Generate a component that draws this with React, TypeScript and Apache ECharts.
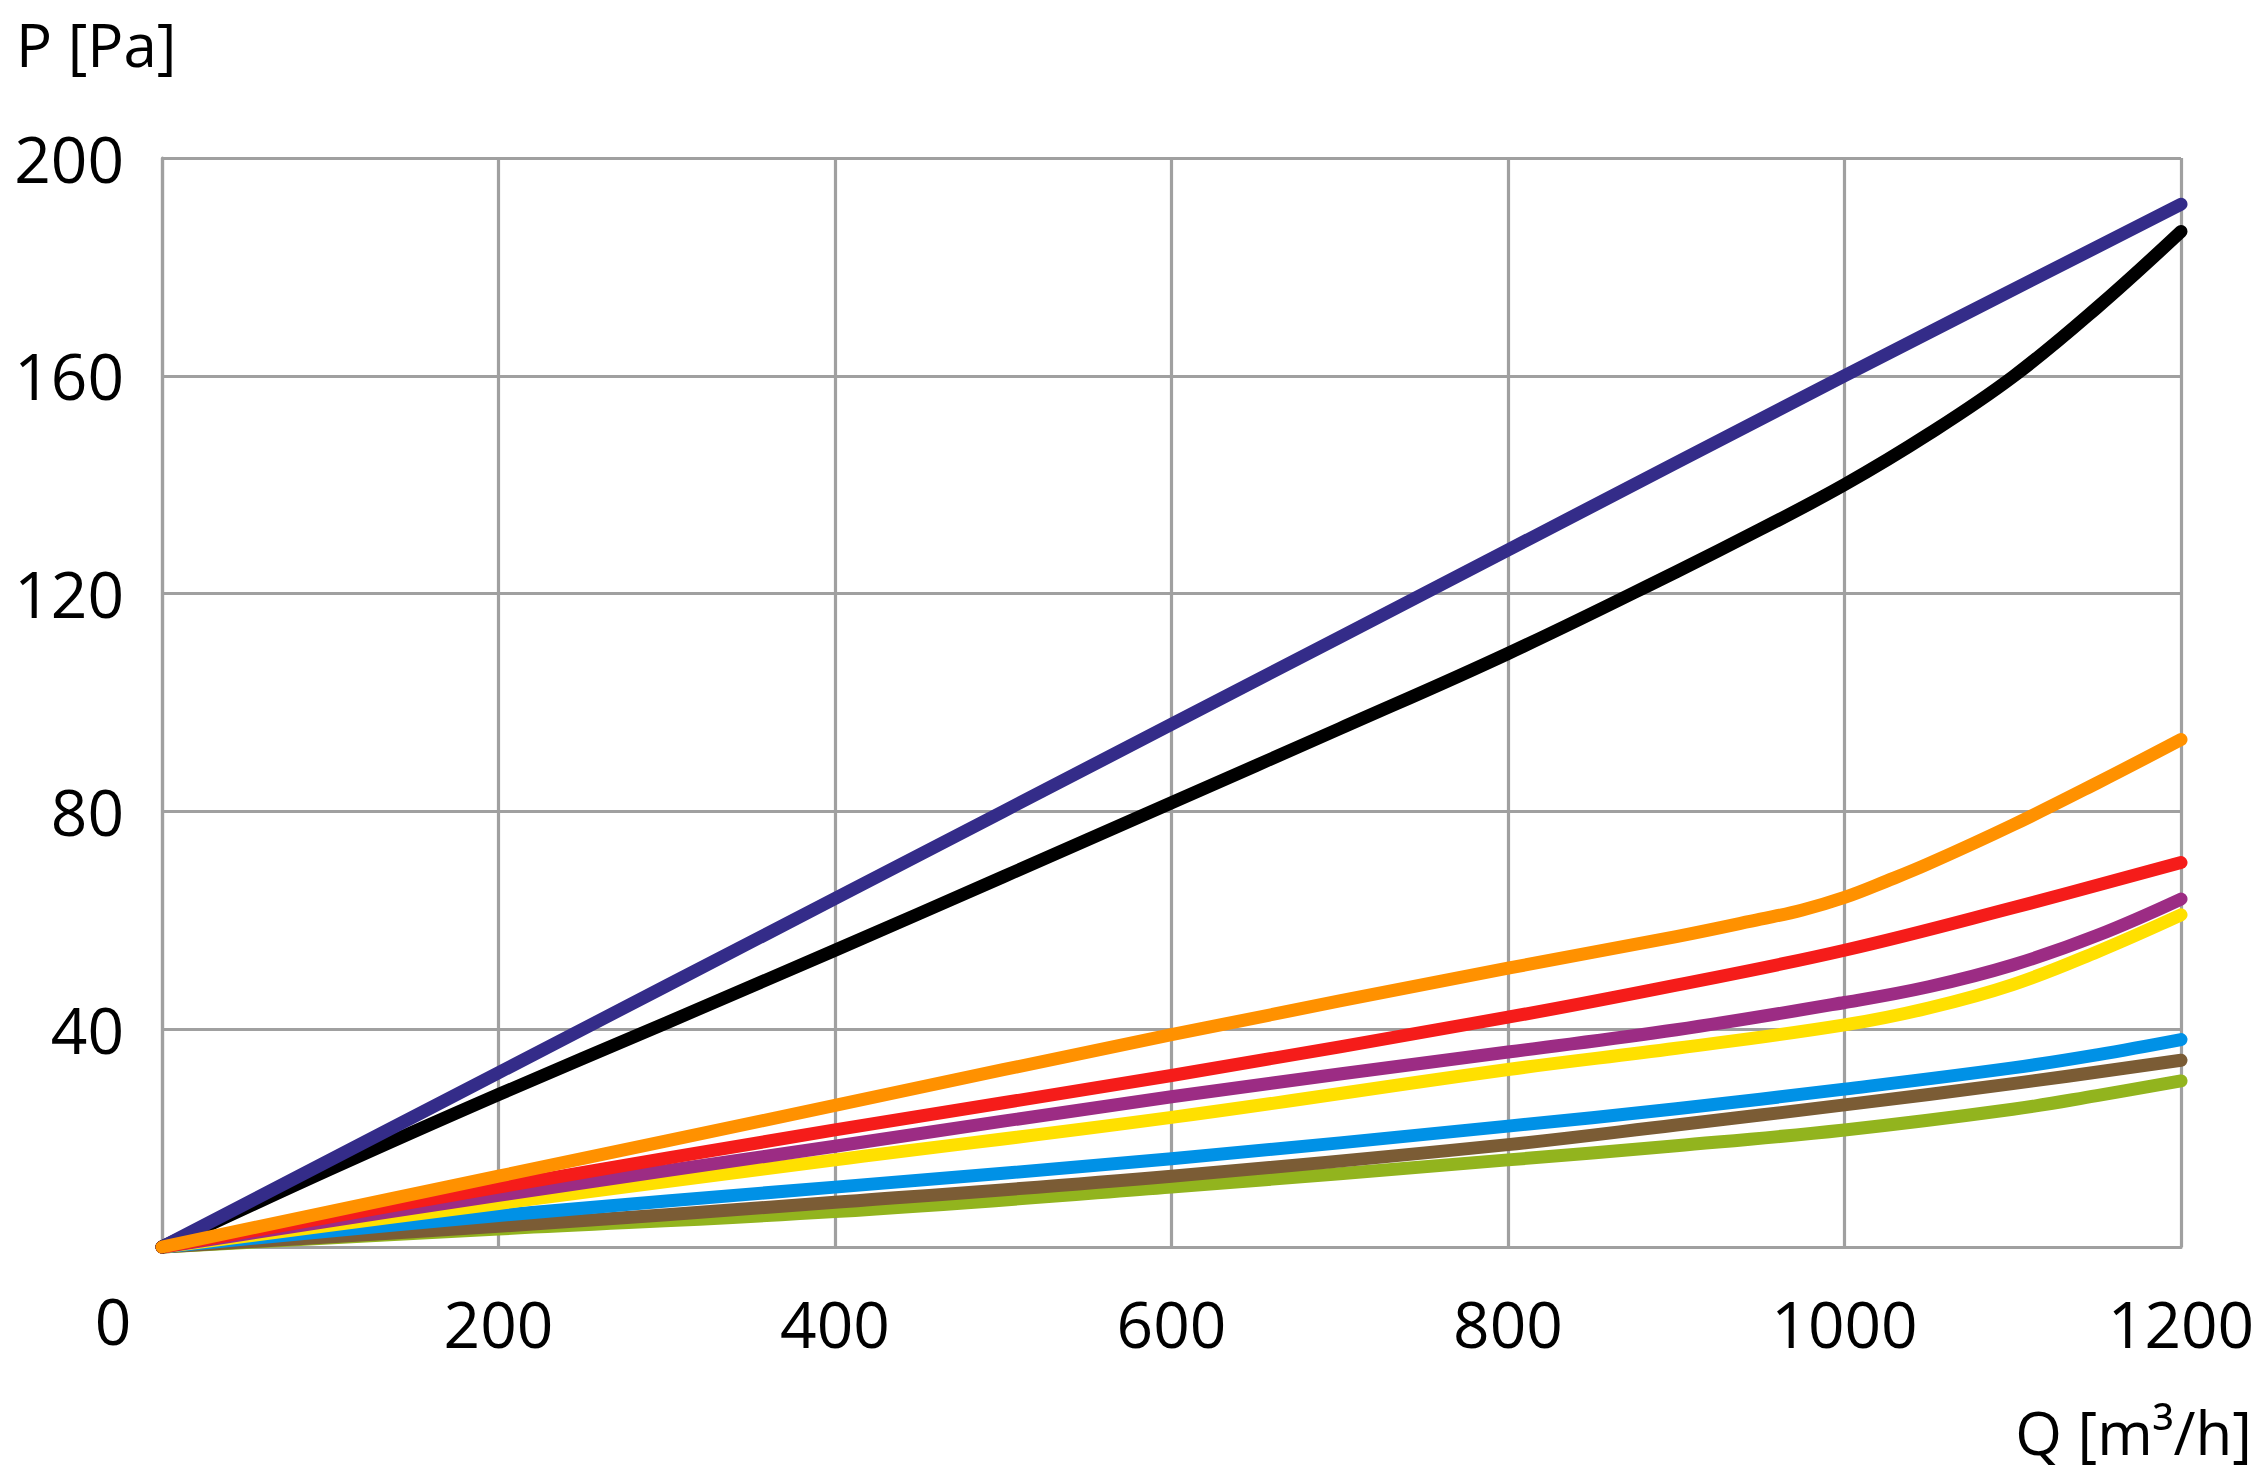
import React, { useEffect, useRef } from "react";
import * as echarts from "echarts";

const xTicks = [0, 200, 400, 600, 800, 1000, 1200];
const yTicks = [0, 40, 80, 120, 160, 200];

const darkBlueQ = [0, 200, 400, 600, 800, 1000, 1200];
const darkBlueP = [0, 32, 64, 96, 128, 160, 191.5];

const blackQ = [0, 100, 200, 300, 400, 500, 600, 700, 800, 900, 950, 1000, 1050, 1100, 1150, 1200];
const blackP = [0, 14.3, 28, 41.2, 54.5, 68, 81.6, 95.2, 109, 124, 131.8, 140, 149.3, 159.8, 172.5, 186.5];

const orangeQ = [0, 200, 400, 600, 800, 900, 950, 975, 1000, 1025, 1050, 1100, 1150, 1200];
const orangeP = [0, 13, 26, 39, 51.2, 57, 60.2, 61.9, 64.2, 67.2, 70.4, 77.5, 85.2, 93.2];

const redQ = [0, 200, 400, 600, 800, 900, 1000, 1100, 1200];
const redP = [0, 11, 21.5, 31.5, 42.2, 48.1, 54.5, 62.3, 70.6];

const purpleQ = [0, 200, 400, 600, 800, 900, 1000, 1050, 1100, 1150, 1200];
const purpleP = [0, 9.5, 18.5, 27.6, 35.8, 39.9, 44.9, 47.8, 51.8, 57.2, 63.9];

const yellowQ = [0, 200, 400, 600, 800, 900, 1000, 1050, 1100, 1150, 1200];
const yellowP = [0, 8, 16, 23.8, 32.6, 36.5, 40.8, 43.9, 48.2, 54.2, 61];

const blueQ = [0, 200, 400, 600, 800, 900, 1000, 1100, 1150, 1200];
const blueP = [0, 5.8, 11, 16.2, 22.2, 25.4, 29, 32.9, 35.3, 38.1];

const brownQ = [0, 200, 400, 600, 800, 900, 1000, 1100, 1200];
const brownP = [0, 3.8, 8.2, 13, 18.8, 22.4, 26.1, 30, 34.3];

const greenQ = [0, 200, 400, 600, 800, 900, 1000, 1100, 1150, 1200];
const greenP = [0, 3.3, 6.5, 11, 16, 18.6, 21.5, 25.3, 27.8, 30.5];

const seriesDefs = [
  { name: "green", color: "#92b41e", q: greenQ, p: greenP },
  { name: "brown", color: "#7b5c35", q: brownQ, p: brownP },
  { name: "blue", color: "#0091e6", q: blueQ, p: blueP },
  { name: "yellow", color: "#ffe000", q: yellowQ, p: yellowP },
  { name: "purple", color: "#9c2c84", q: purpleQ, p: purpleP },
  { name: "red", color: "#f51c1a", q: redQ, p: redP },
  { name: "black", color: "#000000", q: blackQ, p: blackP },
  { name: "darkblue", color: "#342c89", q: darkBlueQ, p: darkBlueP },
  { name: "orange", color: "#ff9100", q: orangeQ, p: orangeP },
];

const FONT = "'Open Sans', 'Noto Sans', sans-serif";
const GRID = "#a0a0a0";

export default function App() {
  const ref = useRef<HTMLDivElement>(null);
  useEffect(() => {
    if (!ref.current) return;
    const chart = echarts.init(ref.current, undefined, { renderer: "svg" });
    chart.setOption({
      animation: false,
      backgroundColor: "#ffffff",
      grid: { left: 162, top: 158, right: 86, bottom: 233, containLabel: false },
      xAxis: {
        type: "value",
        min: xTicks[0],
        max: xTicks[xTicks.length - 1],
        interval: 200,
        axisLine: { show: true, lineStyle: { color: GRID, width: 3.2 } },
        axisTick: { show: false },
        splitLine: { show: true, lineStyle: { color: GRID, width: 3.2 } },
        axisLabel: {
          margin: 44,
          color: "#000",
          fontSize: 64,
          fontFamily: FONT,
          formatter: (v: number) => (v === 0 ? "" : String(v)),
        },
      },
      yAxis: {
        type: "value",
        min: yTicks[0],
        max: yTicks[yTicks.length - 1],
        interval: 40,
        axisLine: { show: true, lineStyle: { color: GRID, width: 3.2 } },
        axisTick: { show: false },
        splitLine: { show: true, lineStyle: { color: GRID, width: 3.2 } },
        axisLabel: {
          margin: 38,
          color: "#000",
          fontSize: 64,
          fontFamily: FONT,
          formatter: (v: number) => (v === 0 ? "" : String(v)),
        },
      },
      graphic: [
        {
          type: "text",
          x: 16,
          y: 44,
          style: {
            text: "P [Pa]",
            fill: "#000",
            fontSize: 60,
            fontFamily: FONT,
            align: "left",
            verticalAlign: "middle",
          },
        },
        {
          type: "text",
          x: 2252,
          y: 1432,
          style: {
            text: "Q [m³/h]",
            fill: "#000",
            fontSize: 60,
            fontFamily: FONT,
            align: "right",
            verticalAlign: "middle",
          },
        },
        {
          type: "text",
          x: 113,
          y: 1320,
          style: {
            text: "0",
            fill: "#000",
            fontSize: 64,
            fontFamily: FONT,
            align: "center",
            verticalAlign: "middle",
          },
        },
      ],
      series: seriesDefs.map((s) => ({
        type: "line",
        name: s.name,
        data: s.q.map((q, i) => [q, s.p[i]]),
        smooth: 0.4,
        showSymbol: false,
        symbol: "none",
        lineStyle: { color: s.color, width: 13, cap: "round", join: "round" },
        itemStyle: { color: s.color },
        clip: false,
      })),
    });
    return () => chart.dispose();
  }, []);
  return (
    <div
      ref={ref}
      style={{ position: "absolute", left: 0, top: 0, width: 2267, height: 1480 }}
    />
  );
}
